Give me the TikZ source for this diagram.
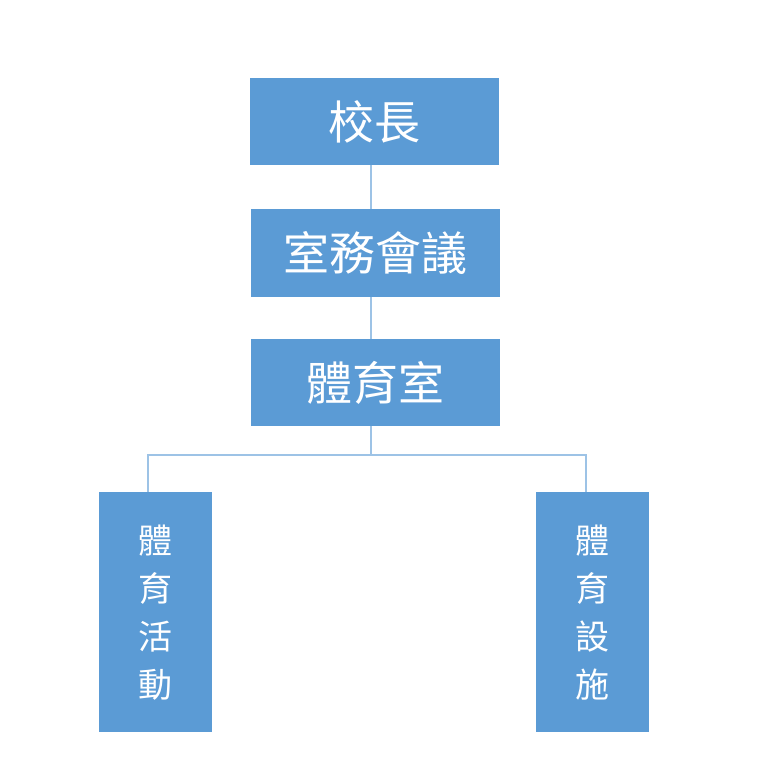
\documentclass[tikz,border=0pt]{standalone}
\usepackage{fontspec}
\newfontfamily\cjk{Noto Sans CJK TC}[Scale=1]
\definecolor{boxblue}{HTML}{5B9BD5}
\definecolor{lineblue}{HTML}{9DC3E6}
\begin{document}
\begin{tikzpicture}[x=1pt,y=-1pt,
  orgbox/.style={fill=boxblue, draw=none, text=white, inner sep=0pt, anchor=north west},
  conn/.style={draw=lineblue, line width=1.6pt}]
\useasboundingbox (0,0) rectangle (756,776);
\node[orgbox, minimum width=249pt, minimum height=87pt, font=\cjk\fontsize{46}{50}\selectfont] (head) at (250,78) {校長};
\node[orgbox, minimum width=249pt, minimum height=88pt, font=\cjk\fontsize{46}{50}\selectfont] (meet) at (251,209) {室務會議};
\node[orgbox, minimum width=249pt, minimum height=87pt, font=\cjk\fontsize{46}{50}\selectfont] (pe) at (251,339) {體育室};
\node[orgbox, minimum width=113pt, minimum height=240pt, align=center, font=\cjk\fontsize{34}{48}\selectfont] (act) at (99,492) {體\\育\\活\\動};
\node[orgbox, minimum width=113pt, minimum height=240pt, align=center, font=\cjk\fontsize{34}{48}\selectfont] (fac) at (536,492) {體\\育\\設\\施};
\coordinate (split) at (371,455);
\draw[conn] (head.south -| split) -- (meet.north -| split);
\draw[conn] (meet.south -| split) -- (pe.north -| split);
\draw[conn] (pe.south -| split) -- (split);
\draw[conn] (act.north -| 148,0) |- (split);
\draw[conn] (fac.north -| 586,0) |- (split);
\end{tikzpicture}
\end{document}
